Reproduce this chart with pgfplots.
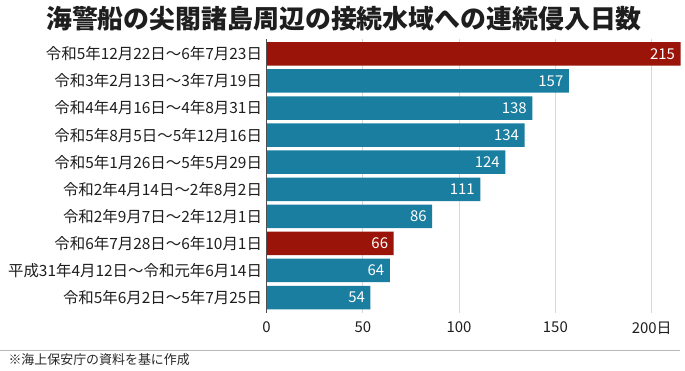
\documentclass[border=0pt]{standalone}
\usepackage{fontspec}
\setmainfont{Noto Sans CJK JP}
\usepackage{pgfplots}
\pgfplotsset{compat=1.18}
\definecolor{barred}{RGB}{155,20,10}
\definecolor{barblue}{RGB}{26,126,160}
\definecolor{txt}{RGB}{30,30,30}
\begin{document}
\begin{tikzpicture}[x=1bp,y=1bp]
\useasboundingbox (0,0) rectangle (685,370);
\fill[white] (0,0) rectangle (685,370);
\node[font=\fontsize{26}{28}\selectfont\bfseries, text=txt, anchor=center] at (344,351) {海警船の尖閣諸島周辺の接続水域への連続侵入日数};
\begin{axis}[
  scale only axis, width=415bp, height=274bp,
  at={(266.5bp,57bp)}, anchor=south west,
  xbar, bar width=23.5bp,
  xmin=0, xmax=215.5,
  ymin=-0.55, ymax=9.57, y dir=reverse,
  axis line style={draw=none},
  xtick={0,50,100,150,200},
  xticklabels={0,50,100,150,200日},
  ytick={0,...,9},
  yticklabels={令和5年12月22日～6年7月23日,令和3年2月13日～3年7月19日,令和4年4月16日～4年8月31日,令和5年8月5日～5年12月16日,令和5年1月26日～5年5月29日,令和2年4月14日～2年8月2日,令和2年9月7日～2年12月1日,令和6年7月28日～6年10月1日,平成31年4月12日～令和元年6月14日,令和5年6月2日～5年7月25日},
  major tick length=0pt,
  xmajorgrids, grid style={draw={rgb,255:red,215;green,215;blue,215}, line width=1bp},
  yticklabel style={font=\fontsize{15.5}{17}\selectfont, text=txt, xshift=-1bp},
  xticklabel style={font=\fontsize{15}{17}\selectfont, text=txt, yshift=-5bp},
  /pgf/number format/assume math mode=true,
  nodes near coords,
  nodes near coords style={anchor=east, xshift=-2bp, text=white, font=\fontsize{15}{17}\selectfont},
  clip=false,
]
\addplot[fill=barblue, draw=none, bar shift=0pt] coordinates {(157,1) (138,2) (134,3) (124,4) (111,5) (86,6) (64,8) (54,9)};
\addplot[fill=barred, draw=none, bar shift=0pt] coordinates {(215,0) (66,7)};
\draw[color={rgb,255:red,80;green,80;blue,80}, line width=1bp] (axis cs:0,-0.55) -- (axis cs:0,9.57);
\end{axis}
\draw[color={rgb,255:red,185;green,185;blue,185}, line width=1.5bp] (0,19.5) -- (680,19.5);
\node[anchor=west, font=\fontsize{13}{15}\selectfont, text={rgb,255:red,40;green,40;blue,40}] at (5,10) {※海上保安庁の資料を基に作成};
\end{tikzpicture}
\end{document}
